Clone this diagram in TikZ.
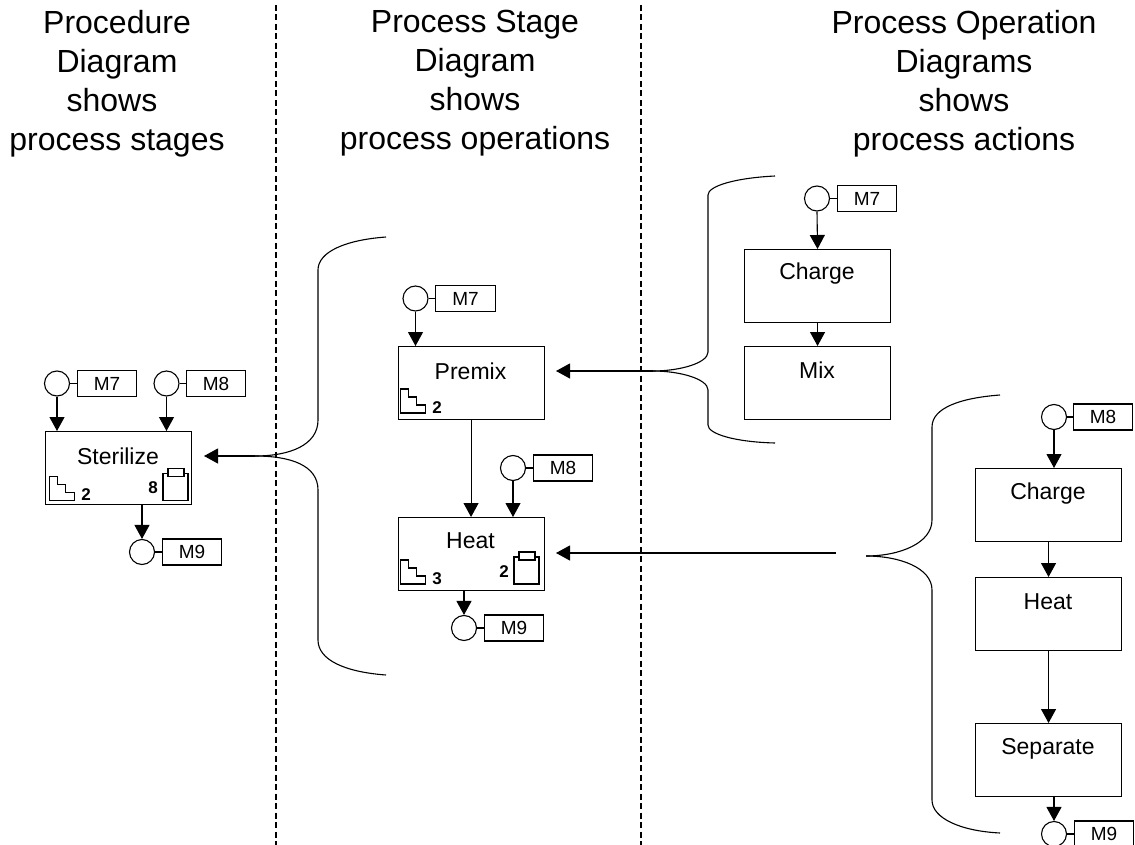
\documentclass[tikz,border=0pt]{standalone}
\usepackage{fontspec}
\setmainfont{Liberation Sans}
\usetikzlibrary{arrows.meta}
\tikzset{
  x=1pt,y=-1pt,
  ln/.style={line width=1.1pt,black},
  flow/.style={ln,-{Triangle[length=14pt,width=15pt]},shorten >=0pt},
  procbox/.style={draw,ln,fill=white,minimum width=146pt,minimum height=73pt,inner sep=0pt,anchor=north west},
  boxtxt/.style={font=\fontsize{23}{26}\selectfont,anchor=center,inner sep=0pt},
  circ/.style={draw,ln,circle,minimum size=25pt,inner sep=0pt},
  tag/.style={draw,ln,minimum width=59.5pt,minimum height=26pt,inner sep=0pt,font=\fontsize{19}{22}\selectfont},
  head/.style={font=\fontsize{32}{39}\selectfont,align=center,inner sep=0pt,anchor=north},
  div/.style={line width=1.1pt,dash pattern=on 6pt off 3.5pt,black},
  brace/.style={line width=1.1pt,black},
  num/.style={font=\bfseries\fontsize{17}{20}\selectfont,inner sep=0pt}
}
\newcommand{\stairs}[2]{\draw[ln] (#1,#2) -- ++(0,-24) -- ++(8,0) -- ++(0,8) -- ++(8,0) -- ++(0,8) -- ++(9,0) -- ++(0,8) -- cycle;}
\newcommand{\clipbd}[2]{\draw[ln] (#1,#2) rectangle ++(25,-27);\draw[ln,fill=white] (#1+5,#2-32) rectangle ++(16,8);}
\begin{document}
\begin{tikzpicture}
\useasboundingbox (0,0) rectangle (1135,845);
\fill[white] (0,0) rectangle (1135,845);
% headers
\node[head] (h1) at (117,9.7) {Procedure\\Diagram\\shows\kern10pt\\process stages};
\node[head] (h2) at (475,9.7) {Process Stage\\Diagram\\shows\\process operations};
\node[head] (h3) at (964,9.7) {Process Operation\\Diagrams\\shows\\process actions};
% dividers
\coordinate (d1a) at (276,5); \coordinate (d1b) at (276,845);
\coordinate (d2a) at (641,5); \coordinate (d2b) at (641,845);
\draw[div] (d1a) -- (d1b);
\draw[div] (d2a) -- (d2b);
% Left column
\node[procbox] (ster) at (45,431) {};
\node[boxtxt] (sterl) at (118,456) {Sterilize};
\node[circ] (c1) at (57,383.5) {};
\node[tag] (t1) at (107,383.5) {M7};
\node[circ] (c2) at (166.5,383.5) {};
\node[tag] (t2) at (216,383.5) {M8};
\node[circ] (c3) at (142,552) {};
\node[tag] (t3) at (192,552) {M9};
\draw[ln] (c1) -- (t1); \draw[ln] (c2) -- (t2); \draw[ln] (c3) -- (t3);
\draw[flow] (c1.south) -- (c1.south |- ster.north);
\draw[flow] (c2.south) -- (c2.south |- ster.north);
\draw[flow] (c3.north |- ster.south) -- (c3.north);
\stairs{49.5}{500.5}
\node[num] (n1) at (86,495) {2};
\node[num] (n2) at (153,488) {8};
\clipbd{163}{500.5}
% Middle column
\node[procbox] (pre) at (397.5,346) {};
\node[boxtxt] (prel) at (470.5,371) {Premix};
\node[procbox] (heat) at (397.5,517) {};
\node[boxtxt] (heatl) at (470.5,541) {Heat};
\node[circ] (c4) at (415.5,298.5) {};
\node[tag] (t4) at (465.5,298.5) {M7};
\node[circ] (c5) at (513,468) {};
\node[tag] (t5) at (563,468) {M8};
\node[circ] (c6) at (464,628) {};
\node[tag] (t6) at (514,628) {M9};
\draw[ln] (c4) -- (t4); \draw[ln] (c5) -- (t5); \draw[ln] (c6) -- (t6);
\draw[flow] (c4.south) -- (c4.south |- pre.north);
\draw[flow] (c5.south) -- (c5.south |- heat.north);
\draw[flow] (pre.south) -- (heat.north);
\draw[flow] (c6.north |- heat.south) -- (c6.north);
\stairs{400.5}{413}
\node[num] (n3) at (437,408) {2};
\stairs{400.5}{584}
\node[num] (n4) at (437,579) {3};
\node[num] (n5) at (504,572) {2};
\clipbd{514}{584}
% Upper right column
\node[procbox] (chg1) at (744,249) {};
\node[boxtxt] (chg1l) at (817,274) {Charge};
\node[procbox] (mix) at (744,346) {};
\node[boxtxt] (mixl) at (817,370) {Mix};
\node[circ] (c7) at (817,198.5) {};
\node[tag] (t7) at (867,198.5) {M7};
\draw[ln] (c7) -- (t7);
\draw[flow] (c7.south) -- (chg1.north);
\draw[flow] (chg1.south) -- (mix.north);
% Lower right column
\node[procbox] (chg2) at (975,468) {};
\node[boxtxt] (chg2l) at (1048,494) {Charge};
\node[procbox] (ht2) at (975,577) {};
\node[boxtxt] (ht2l) at (1048,602) {Heat};
\node[procbox] (sep) at (975,723) {};
\node[boxtxt] (sepl) at (1048,749) {Separate};
\node[circ] (c8) at (1054,417) {};
\node[tag] (t8) at (1103,417) {M8};
\node[circ] (c9) at (1054,834) {};
\node[tag] (t9) at (1104,834) {M9};
\draw[ln] (c8) -- (t8); \draw[ln] (c9) -- (t9);
\draw[flow] (c8.south) -- (c8.south |- chg2.north);
\draw[flow] (chg2.south) -- (ht2.north);
\draw[flow] (ht2.south) -- (sep.north);
\draw[flow] (c9.north |- sep.south) -- (c9.north);
% Braces
\coordinate (b1t) at (386,237); \coordinate (b1m) at (255,456); \coordinate (b1b) at (386,675);
\coordinate (b2t) at (775,176); \coordinate (b2m) at (653,371); \coordinate (b2b) at (775,443);
\coordinate (b3t) at (1000,395); \coordinate (b3m) at (866,556); \coordinate (b3b) at (1000,833);
\draw[brace] (b1t) .. controls (345,240) and (318,252) .. (318,270) -- (318,420) .. controls (318,445) and (290,456) .. (b1m);
\draw[brace] (b1m) .. controls (290,456) and (318,465) .. (318,490) -- (318,640) .. controls (318,660) and (345,672) .. (b1b);
\draw[brace] (b2t) .. controls (735,178) and (708,186) .. (708,195) -- (708,352) .. controls (708,363) and (680,371) .. (b2m);
\draw[brace] (b2m) .. controls (680,371) and (708,379) .. (708,390) -- (708,425) .. controls (708,434) and (735,442) .. (b2b);
\draw[brace] (b3t) .. controls (960,398) and (932,408) .. (932,427) -- (932,520) .. controls (932,543) and (900,556) .. (b3m);
\draw[brace] (b3m) .. controls (900,556) and (932,568) .. (932,590) -- (932,800) .. controls (932,818) and (960,831) .. (b3b);
% Reference arrows
\coordinate (a1) at (204,456);
\coordinate (a2) at (556,371);
\coordinate (a3) at (556,553);
\coordinate (a3s) at (836,553);
\draw[flow] (b1m) -- (a1);
\draw[flow] (b2m) -- (a2);
\draw[flow] (a3s) -- (a3);
\end{tikzpicture}
\end{document}
